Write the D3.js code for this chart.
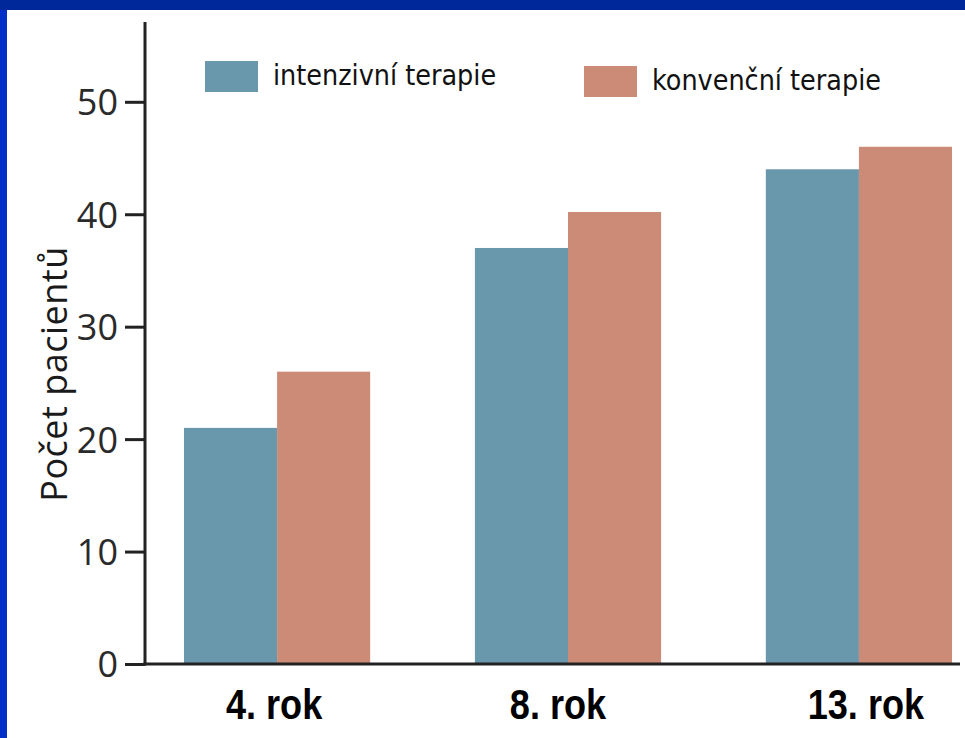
<!DOCTYPE html>
<html>
<head>
<meta charset="utf-8">
<script src="https://cdn.jsdelivr.net/npm/d3@7"></script>
<style>
  html, body { margin: 0; padding: 0; background: #ffffff; }
  svg { display: block; }
</style>
</head>
<body>
<script>
// Data
const categories = ["4. rok", "8. rok", "13. rok"];
const seriesNames = ["intenzivní terapie", "konvenční terapie"];
const intenzivni = [21, 37, 44];
const konvencni = [26, 40.2, 46];
const yTicks = [0, 10, 20, 30, 40, 50];
const yLabel = "Počet pacientů";

const W = 965, H = 738;
const colors = ["#6997ab", "#cc8b77"];

const svg = d3.select("body").append("svg")
  .attr("width", W).attr("height", H);

// slide frame
svg.append("rect").attr("x", 0).attr("y", 0).attr("width", W).attr("height", H).attr("fill", "#ffffff");
svg.append("rect").attr("x", 0).attr("y", 0).attr("width", 7).attr("height", H).attr("fill", "#0030c8");
svg.append("rect").attr("x", 0).attr("y", 0).attr("width", W).attr("height", 10).attr("fill", "#00289a");

const x0 = 145, yBase = 664;

const y = d3.scaleLinear().domain([0, 50]).range([yBase, 101.8]);
const x = d3.scaleBand().domain(categories).range([x0, 991]).paddingInner(0.36).paddingOuter(0.134);
const xs = d3.scaleBand().domain(seriesNames).range([0, x.bandwidth()]);

const rows = categories.map((c, i) => ({ cat: c, vals: [intenzivni[i], konvencni[i]] }));

// bars
const g = svg.append("g");
rows.forEach(r => {
  r.vals.forEach((v, j) => {
    g.append("rect")
      .attr("x", x(r.cat) + xs(seriesNames[j]))
      .attr("y", y(v))
      .attr("width", xs.bandwidth())
      .attr("height", yBase - y(v))
      .attr("fill", colors[j]);
  });
});

// y axis
const yAxis = d3.axisLeft(y).tickValues(yTicks).tickSize(20).tickPadding(7).tickFormat(d3.format("d"));
const ya = svg.append("g").attr("transform", `translate(${x0},0)`).call(yAxis);
ya.select(".domain").remove();
ya.selectAll(".tick line").attr("stroke", "#222").attr("stroke-width", 3);
ya.selectAll(".tick text")
  .attr("font-family", "'Open Sans', sans-serif")
  .attr("font-size", 36)
  .attr("fill", "#2a2a2a")
  .attr("dy", "0.36em");

// axis lines
svg.append("line").attr("x1", x0).attr("x2", x0).attr("y1", 22).attr("y2", yBase + 1.5)
  .attr("stroke", "#222").attr("stroke-width", 3);
svg.append("line").attr("x1", x0 - 1.5).attr("x2", 960).attr("y1", yBase).attr("y2", yBase)
  .attr("stroke", "#222").attr("stroke-width", 3);

// x category labels (condensed bold)
const labelShift = [-3, -10, 7];
svg.append("g").selectAll("text").data(categories).join("text")
  .attr("transform", (d, i) => `translate(${x(d) + x.bandwidth() / 2 + labelShift[i]},719) scale(0.86,1)`)
  .attr("text-anchor", "middle")
  .attr("font-family", "'Liberation Sans', Arial, sans-serif")
  .attr("font-weight", "bold")
  .attr("font-size", 42)
  .attr("fill", "#000")
  .text(d => d);

// y label
svg.append("text")
  .attr("transform", "translate(67,374) rotate(-90)")
  .attr("text-anchor", "middle")
  .attr("font-family", "'Open Sans', sans-serif")
  .attr("font-size", 36)
  .attr("letter-spacing", 0.5)
  .attr("fill", "#1a1a1a")
  .text(yLabel);

// legend
const legend = [
  { name: seriesNames[0], color: colors[0], sx: 205, sy: 61, tx: 273, ty: 85 },
  { name: seriesNames[1], color: colors[1], sx: 584, sy: 66, tx: 652, ty: 90 }
];
legend.forEach(l => {
  svg.append("rect").attr("x", l.sx).attr("y", l.sy).attr("width", 53).attr("height", 31).attr("fill", l.color);
  svg.append("text").attr("x", l.tx).attr("y", l.ty)
    .attr("font-family", "'DejaVu Sans Condensed', 'DejaVu Sans', sans-serif")
    .attr("font-size", 28.4)
    .attr("fill", "#111")
    .text(l.name);
});
</script>
</body>
</html>
